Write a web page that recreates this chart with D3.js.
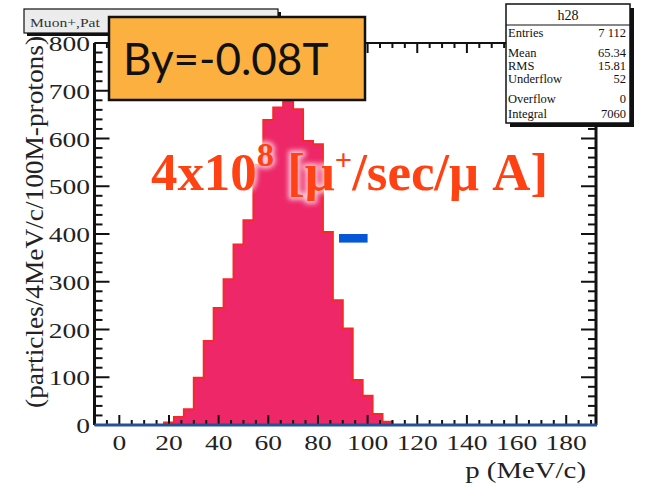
<!DOCTYPE html>
<html><head><meta charset="utf-8">
<script src="https://cdn.jsdelivr.net/npm/d3@7/dist/d3.min.js"></script>
<style>body{margin:0;background:#fff}svg{display:block}</style>
</head><body>
<script>
// ---- data ----
const binLow = [18,22,26,30,34,38,42,46,50,54,58,62,66,70,74,78,82,86,90,94,98,102,106];
const binWidth = 4;
const counts = [5,17,33,99,176,245,305,378,429,545,639,665,678,661,595,588,404,261,202,94,61,23,7];
const xTicks = [0,20,40,60,80,100,120,140,160,180];
const yTicks = [0,100,200,300,400,500,600,700,800];
const statsLabels = ["Entries","Mean","RMS","Underflow","Overflow","Integral"];
const statsValues = ["7 112","65.34","15.81","52","0","7060"];
const histName = "h28";
const titleText = "Muon+,Pat";
const fieldLabel = "By=-0.08T";
const xTitle = "p (MeV/c)";
const yTitle = "(particles/4MeV/c/100M-protons)";

const W = 645, H = 486;
const svg = d3.select("body").append("svg").attr("width", W).attr("height", H);
const defs = svg.append("defs");
const f = defs.append("filter").attr("id","glow").attr("x","-20%").attr("y","-50%").attr("width","140%").attr("height","200%");
f.append("feGaussianBlur").attr("stdDeviation", 2.5);

const x = d3.scaleLinear().domain([-10, 192]).range([94.5, 596]);
const y = d3.scaleLinear().domain([0, 800]).range([425, 43]);
const serif = "'Liberation Serif','Times New Roman',serif";

// histogram
const pts = [];
binLow.forEach((b,i)=>{ pts.push([b, counts[i]]); pts.push([b+binWidth, counts[i]]); });
const area = d3.area().x(d=>x(d[0])).y0(y(0)).y1(d=>y(d[1]));
const line = d3.line().x(d=>x(d[0])).y(d=>y(d[1]));
const full = [[binLow[0],0], ...pts, [binLow[binLow.length-1]+binWidth,0]];
svg.append("path").attr("d", area(pts)).attr("fill","#ee2868");
svg.append("path").attr("d", line(full)).attr("fill","none").attr("stroke","#f5282a").attr("stroke-width",2);

// frame
const g = svg.append("g");
const xMinor = d3.range(-10, 192.1, 5);
xMinor.forEach(v=>{
  const major = v % 20 === 0;
  const len = major ? 10 : 5;
  g.append("line").attr("x1",x(v)).attr("x2",x(v)).attr("y1",y(0)).attr("y2",y(0)-len).attr("stroke","#111").attr("stroke-width",2);
  g.append("line").attr("x1",x(v)).attr("x2",x(v)).attr("y1",y(800)).attr("y2",y(800)+len).attr("stroke","#111").attr("stroke-width",2);
});
const yMinor = d3.range(0, 800.1, 20);
yMinor.forEach(v=>{
  const major = v % 100 === 0;
  const len = major ? 15 : 8;
  g.append("line").attr("x1",x(-10)).attr("x2",x(-10)+len).attr("y1",y(v)).attr("y2",y(v)).attr("stroke","#111").attr("stroke-width",2);
  g.append("line").attr("x1",x(192)).attr("x2",x(192)-len).attr("y1",y(v)).attr("y2",y(v)).attr("stroke","#111").attr("stroke-width",2);
});
g.append("line").attr("x1",x(-10)).attr("x2",x(-10)).attr("y1",y(0)).attr("y2",y(800)).attr("stroke","#111").attr("stroke-width",3);
g.append("line").attr("x1",x(192)).attr("x2",x(192)).attr("y1",y(0)).attr("y2",y(800)).attr("stroke","#111").attr("stroke-width",3);
g.append("line").attr("x1",x(-10)).attr("x2",x(192)).attr("y1",y(800)).attr("y2",y(800)).attr("stroke","#111").attr("stroke-width",2);
g.append("line").attr("x1",x(-10)).attr("x2",x(192)+1).attr("y1",y(0)).attr("y2",y(0)).attr("stroke","#24509c").attr("stroke-width",3);

// tick labels
xTicks.forEach(v=>{
  svg.append("text").attr("transform",`translate(${x(v)},450) scale(1.25,1)`).attr("text-anchor","middle")
    .attr("font-family",serif).attr("font-size",22).attr("fill","#222").text(v);
});
yTicks.forEach(v=>{
  svg.append("text").attr("transform",`translate(90,${y(v)+8}) scale(1.25,1)`).attr("text-anchor","end")
    .attr("font-family",serif).attr("font-size",22).attr("fill","#222").text(v);
});
svg.append("text").attr("transform","translate(586,478) scale(1.2,1)").attr("text-anchor","end")
  .attr("font-family",serif).attr("font-size",24).attr("fill","#222").text(xTitle);
svg.append("text").attr("transform","translate(43,36) rotate(-90) scale(1.14,1.08)").attr("text-anchor","end")
  .attr("font-family",serif).attr("font-size",24).attr("fill","#222").text(yTitle);

// stats box
const sb = {x:506, y:4, w:124, h:119};
svg.append("rect").attr("x",sb.x+4).attr("y",sb.y+4).attr("width",sb.w).attr("height",sb.h).attr("fill","#111");
svg.append("rect").attr("x",sb.x).attr("y",sb.y).attr("width",sb.w).attr("height",sb.h).attr("fill","#fff").attr("stroke","#111").attr("stroke-width",1.5);
svg.append("line").attr("x1",sb.x).attr("x2",sb.x+sb.w).attr("y1",25).attr("y2",25).attr("stroke","#111").attr("stroke-width",1.2);
svg.append("text").attr("x",sb.x+sb.w/2).attr("y",20).attr("text-anchor","middle").attr("font-family",serif).attr("font-size",14).attr("fill","#111").text(histName);
const rowY = [37,57,70,83,103,118];
statsLabels.forEach((l,i)=>{
  svg.append("text").attr("x",sb.x+2).attr("y",rowY[i]).attr("font-family",serif).attr("font-size",12.5).attr("fill","#111").text(l);
  svg.append("text").attr("x",sb.x+sb.w-4).attr("y",rowY[i]).attr("text-anchor","end").attr("font-family",serif).attr("font-size",12.5).attr("fill","#111").text(statsValues[i]);
});

// title box
svg.append("rect").attr("x",27).attr("y",12).attr("width",254).attr("height",24).attr("fill","#111");
svg.append("rect").attr("x",24).attr("y",9).attr("width",254).attr("height",24).attr("fill","#ececec").attr("stroke","#111").attr("stroke-width",1.2);
svg.append("text").attr("transform","translate(30,27) scale(1.2,1)").attr("font-family",serif).attr("font-size",13).attr("fill","#333").text(titleText);

// field label box
svg.append("rect").attr("x",109).attr("y",17).attr("width",256).attr("height",83).attr("fill","#fbb03f").attr("stroke","#111").attr("stroke-width",2.5);
svg.append("text").attr("x",123).attr("y",75).attr("font-family","Lato, 'Open Sans', sans-serif").attr("font-size",44).attr("fill","#111").text(fieldLabel);

// big red text with white glow
function bigText(sel){
  sel.append("tspan").text("4x10");
  sel.append("tspan").attr("font-size",34).attr("dy",-24).text("8");
  sel.append("tspan").attr("dy",24).text(" [μ");
  sel.append("tspan").attr("font-size",30).attr("dy",-20).text("+");
  sel.append("tspan").attr("dy",20).text("/sec/μ A]");
}
const tg = svg.append("g").attr("transform","translate(151,190)");
const glow = tg.append("text").attr("font-family",serif).attr("font-weight","bold").attr("font-size",52)
  .attr("fill","#fff").attr("stroke","#fff").attr("stroke-width",5).attr("opacity",0.75).attr("filter","url(#glow)")
  .attr("textLength",397).attr("lengthAdjust","spacingAndGlyphs");
bigText(glow);
const red = tg.append("text").attr("font-family",serif).attr("font-weight","bold").attr("font-size",52)
  .attr("fill","#ff4213").attr("textLength",397).attr("lengthAdjust","spacingAndGlyphs");
bigText(red);

// blue marker
svg.append("rect").attr("x",x(88.5)).attr("y",y(400)).attr("width",x(100)-x(88.5)).attr("height",y(382)-y(400)).attr("fill","#0656d8");
</script>
</body></html>
